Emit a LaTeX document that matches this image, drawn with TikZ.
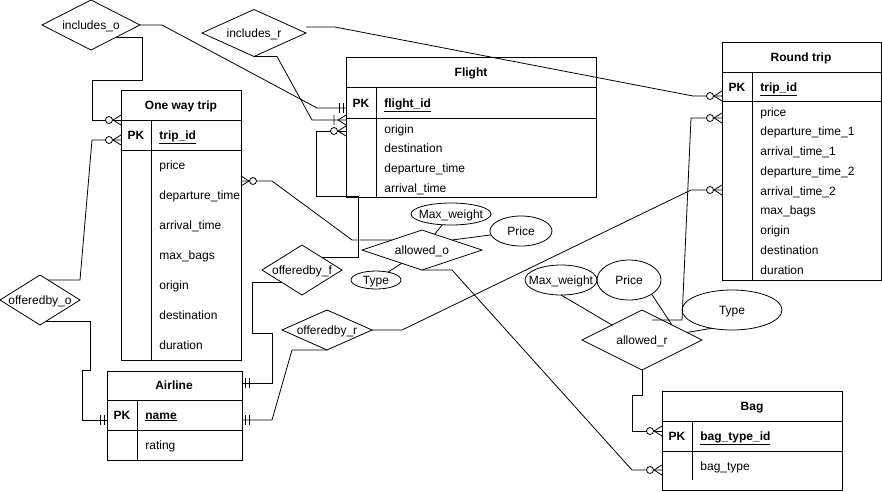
\documentclass[tikz,border=0pt]{standalone}
\usepackage{fontspec}
\setmainfont{Liberation Sans}
\usetikzlibrary{shapes.geometric}

\tikzset{%
  >=latex,
  tbl/.style={draw, rectangle, anchor=north west, inner sep=0pt, outer sep=0pt},
  rel/.style={draw, diamond, inner sep=0pt, outer sep=0pt, text height=10pt, text depth=2pt},
  attr/.style={draw, ellipse, inner sep=0pt, outer sep=0pt, text height=10pt, text depth=2pt},
  fld/.style={anchor=west, inner sep=0pt, text height=10pt, text depth=2pt},
  hd/.style={inner sep=0pt, text height=10pt, text depth=2pt, font=\fontsize{12}{14}\selectfont\bfseries},
  zmany/.pic={\draw (0,-5) -- (-8,0) -- (0,5); \draw[fill=white] (-12,0) circle (3.5pt);},
  omany/.pic={\draw (0,-5) -- (-8,0) -- (0,5) (-12,-5) -- (-12,5);},
  mone/.pic={\draw (-3,-5) -- (-3,5) (-7,-5) -- (-7,5);}
}

\begin{document}
\begin{tikzpicture}[thick, x=1pt, y=-1pt, font=\fontsize{12}{14}\selectfont]
     \useasboundingbox (0,0) rectangle (882,491);

     \node[tbl, minimum width=120pt, minimum height=270pt] (ow) at (121,90) {};
     \node[tbl, minimum width=250pt, minimum height=140pt] (fl) at (346,57) {};
     \node[tbl, minimum width=159pt, minimum height=238pt] (rt) at (722,42) {};
     \node[tbl, minimum width=135pt, minimum height=89pt] (al) at (107,371) {};
     \node[tbl, minimum width=180pt, minimum height=99pt] (bg) at (662,391) {};
     \foreach \l/\r/\d/\a/\b/\e in
       {121/241/151/120/150/360, 346/596/376/87/118/197, 722/881/752/72/101/280,
        107/242/137/400/430/460, 662/842/692/421/451/480}
       \draw (\l,\a) -- (\r,\a) (\l,\b) -- (\r,\b) (\d,\a) -- (\d,\e);

     \foreach \n/\x/\y/\t in
       {ow/181/105/One way trip, fl/471/72/Flight, rt/801/57/Round trip,
        al/174/385/Airline, bg/752/406/Bag}
       \node[hd] (\n-title) at (\x,\y) {\t};
     \foreach \n/\x/\y/\t in
       {ow/136/135/trip\_id, fl/361/103/flight\_id, rt/737/87/trip\_id,
        al/122/415/name, bg/677/436/bag\_type\_id}
       {
       \node[hd] (\n-pk) at (\x,\y) {PK};
       \node[fld, hd] (\n-id) at (\x+23,\y) {\underline{\t}};
       }
     \foreach \a [count=\i] in {price, departure\_time, arrival\_time, max\_bags, origin, destination, duration}
       \node[fld] (ow-f\i) at (159,135+30*\i) {\a};
     \foreach \a [count=\i] in {origin, destination, departure\_time, arrival\_time}
       \node[fld] (fl-f\i) at (384,109.5+19.7*\i) {\a};
     \foreach \a [count=\i] in {price, departure\_time\_1, arrival\_time\_1, departure\_time\_2,
                              arrival\_time\_2, max\_bags, origin, destination, duration}
       \node[fld] (rt-f\i) at (760,92.25+19.75*\i) {\a};
     \node[fld] (al-f1) at (145,445) {rating};
     \node[fld] (bg-f1) at (700,466) {bag\_type};

     \node[rel, minimum width=98pt, minimum height=50pt] (inco) at (91,25) {\makebox[0pt]{includes\_o}};
     \node[rel, minimum width=104pt, minimum height=47pt] (incr) at (254,33) {\makebox[0pt]{includes\_r}};
     \node[rel, minimum width=80pt, minimum height=50pt] (offo) at (40,300) {\makebox[0pt]{offeredby\_o}};
     \node[rel, minimum width=80pt, minimum height=50pt] (offf) at (302,270) {\makebox[0pt]{offeredby\_f}};
     \node[rel, minimum width=90pt, minimum height=40pt] (offr) at (327,330) {\makebox[0pt]{offeredby\_r}};
     \node[rel, minimum width=120pt, minimum height=40pt] (allo) at (422,250) {\makebox[0pt]{allowed\_o}};
     \node[rel, minimum width=120pt, minimum height=60pt] (allr) at (642,340) {\makebox[0pt]{allowed\_r}};

     \node[attr, minimum width=80pt, minimum height=22pt] (mwo) at (451,214) {\makebox[0pt]{Max\_weight}};
     \node[attr, minimum width=62pt, minimum height=30pt] (pro) at (521,231) {\makebox[0pt]{Price}};
     \node[attr, minimum width=50pt, minimum height=18pt] (tyo) at (376,280) {\makebox[0pt]{Type}};
     \node[attr, minimum width=72pt, minimum height=30pt] (mwr) at (561,280) {\makebox[0pt]{Max\_weight}};
     \node[attr, minimum width=64pt, minimum height=40pt] (prr) at (629,280) {\makebox[0pt]{Price}};
     \node[attr, minimum width=100pt, minimum height=40pt] (tyr) at (732,310) {\makebox[0pt]{Type}};

     \coordinate (fl-a) at (346,108);
     \coordinate (fl-b) at (346,120);
     \coordinate (fl-c) at (346,131);
     \coordinate (ow-a) at (121,120);
     \coordinate (ow-b) at (121,140);
     \coordinate (ow-c) at (241,181);
     \coordinate (rt-a) at (722,96);
     \coordinate (rt-b) at (722,118);
     \coordinate (rt-c) at (722,190);
     \coordinate (al-a) at (107,420);
     \coordinate (al-b) at (242,383);
     \coordinate (al-c) at (242,420);
     \coordinate (bg-a) at (662,431);
     \coordinate (bg-b) at (662,470);

     \draw (inco.east) -- ++(22,0) -- (317,108) -- (fl-a);
     \draw (inco.south east) -| (142,80) -| (92,120) -- (ow-a);
     \draw (incr.south) -- ++(23,0) -- (312,120) -- (fl-b);
     \draw ([yshift=6pt]incr.east) -- ++(29,0) -- (693,96) -- (rt-a);
     \draw (offf.north east) -| (358,196) -| (316,131) -- (fl-c);
     \draw (offf.south west) -| (252,333) -| (272,383) -- (al-b);
     \draw (offr.south) -- ++(-35,0) -- (272,420) -- (al-c);
     \draw (offr.east) -- ++(30,0) -- (691,190) -- (rt-c);
     \draw (offo.68) -- (80,280) -- (92,140) -- (ow-b);
     \draw (offo.-74) -| (90,370) -| (82,420) -- (al-a);
     \draw (allo.north west) -- (352,240) -- (272,181) -- (ow-c);
     \draw (allo.south) -- ++(30,0) -- (632,470) -- (bg-b);
     \draw (allr.south) |- (632,395) |- (bg-a);
     \draw (allr.north) ++(10,10) -- (682,320) -- (691,118) -- (rt-b);

     \draw (mwo) -- (allo);
     \draw (allo.north east) -- (pro);
     \draw (tyo) -- (allo);
     \draw (mwr.south) -- (allr.north west);
     \draw (prr.south east) -- (allr.north east);
     \draw (tyr.-138) -- (allr);

     \pic at (fl-a) {mone};
     \pic at (fl-b) {omany};
     \foreach \p in {fl-c, ow-a, ow-b, rt-a, rt-b, rt-c, bg-a, bg-b}
       \pic at (\p) {zmany};
     \pic[rotate=180] at (ow-c) {zmany};
     \pic at (al-a) {mone};
     \foreach \p in {al-b, al-c}
       \pic[rotate=180] at (\p) {mone};

\end{tikzpicture}
\end{document}
